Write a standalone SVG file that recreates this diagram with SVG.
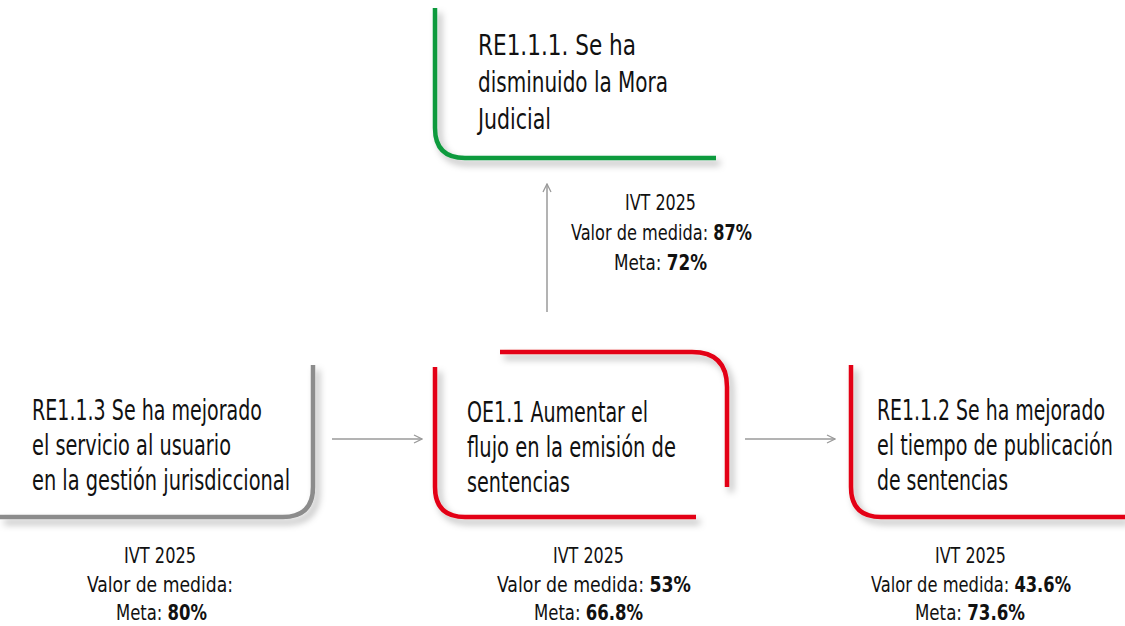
<svg xmlns="http://www.w3.org/2000/svg" width="1125" height="626" viewBox="0 0 1125 626">
<defs>
<filter id="sh" x="-10%" y="-10%" width="130%" height="140%">
<feDropShadow dx="4" dy="5" stdDeviation="3.5" flood-color="#000" flood-opacity="0.3"/>
</filter>
<marker id="ah" viewBox="0 0 10 10" refX="9" refY="5" markerWidth="10" markerHeight="10" markerUnits="userSpaceOnUse" orient="auto">
<path d="M1,1 L9,5 L1,9" fill="none" stroke="#9a9a9a" stroke-width="1.3"/>
</marker>
<style>
.frame{fill:none;stroke-width:4.5;filter:url(#sh)}
.green{stroke:#0f9a3e}
.red{stroke:#e30613}
.gray{stroke:#8c8c8c}
.lbl{font-family:"DejaVu Sans Condensed","Liberation Sans",sans-serif;fill:#111;font-size:29px}
.ivt{font-family:"DejaVu Sans Condensed","Liberation Sans",sans-serif;fill:#111;font-size:22px}
.b{font-weight:bold}
.conn{stroke:#9a9a9a;stroke-width:1.5;fill:none;marker-end:url(#ah)}
</style>
</defs>
<rect width="1125" height="626" fill="#fff"/>

<g id="connectors">
<line class="conn" x1="547" y1="312" x2="547" y2="184"/>
<line class="conn" x1="332" y1="439" x2="422" y2="439"/>
<line class="conn" x1="745" y1="439" x2="835" y2="439"/>
</g>

<g id="re111">
<path class="frame green" d="M435,8 V128 Q435,158 465,158 H716"/>
<text class="lbl" transform="translate(478,55) scale(0.77,1)" textLength="205.2" lengthAdjust="spacingAndGlyphs">RE1.1.1. Se ha</text>
<text class="lbl" transform="translate(478,92) scale(0.77,1)" textLength="246.8" lengthAdjust="spacingAndGlyphs">disminuido la Mora</text>
<text class="lbl" transform="translate(478,129) scale(0.77,1)" textLength="94.8" lengthAdjust="spacingAndGlyphs">Judicial</text>
</g>
<g id="ivt-top">
<text class="ivt" transform="translate(625,210) scale(0.8,1)" textLength="88.75" lengthAdjust="spacingAndGlyphs">IVT 2025</text>
<text class="ivt" transform="translate(571,240) scale(0.8,1)" textLength="226.25" lengthAdjust="spacingAndGlyphs">Valor de medida: <tspan class="b">87%</tspan></text>
<text class="ivt" transform="translate(614,270) scale(0.8,1)" textLength="116.25" lengthAdjust="spacingAndGlyphs">Meta: <tspan class="b">72%</tspan></text>
</g>

<g id="re113">
<path class="frame gray" d="M313,365 V487 Q313,517 283,517 H0"/>
<text class="lbl" transform="translate(32,420) scale(0.77,1)" textLength="298.7" lengthAdjust="spacingAndGlyphs">RE1.1.3 Se ha mejorado</text>
<text class="lbl" transform="translate(32,455) scale(0.77,1)" textLength="258.4" lengthAdjust="spacingAndGlyphs">el servicio al usuario</text>
<text class="lbl" transform="translate(32,490) scale(0.77,1)" textLength="335.1" lengthAdjust="spacingAndGlyphs">en la gestión jurisdiccional</text>
</g>
<g id="ivt-left">
<text class="ivt" transform="translate(124,563) scale(0.8,1)" textLength="90" lengthAdjust="spacingAndGlyphs">IVT 2025</text>
<text class="ivt" transform="translate(87,592) scale(0.8,1)" textLength="182.5" lengthAdjust="spacingAndGlyphs">Valor de medida:</text>
<text class="ivt" transform="translate(116,620) scale(0.8,1)" textLength="113.75" lengthAdjust="spacingAndGlyphs">Meta: <tspan class="b">80%</tspan></text>
</g>

<g id="oe11">
<path class="frame red" d="M500,352 H692 Q727,352 727,387 V487"/>
<path class="frame red" d="M435,367 V487 Q435,517 465,517 H696"/>
<text class="lbl" transform="translate(467,422) scale(0.77,1)" textLength="235.1" lengthAdjust="spacingAndGlyphs">OE1.1 Aumentar el</text>
<text class="lbl" transform="translate(467,457) scale(0.77,1)" textLength="271.4" lengthAdjust="spacingAndGlyphs">flujo en la emisión de</text>
<text class="lbl" transform="translate(467,492) scale(0.77,1)" textLength="133.8" lengthAdjust="spacingAndGlyphs">sentencias</text>
</g>
<g id="ivt-mid">
<text class="ivt" transform="translate(553,563) scale(0.8,1)" textLength="88.75" lengthAdjust="spacingAndGlyphs">IVT 2025</text>
<text class="ivt" transform="translate(497,592) scale(0.8,1)" textLength="242.5" lengthAdjust="spacingAndGlyphs">Valor de medida: <tspan class="b">53%</tspan></text>
<text class="ivt" transform="translate(534,620) scale(0.8,1)" textLength="136.25" lengthAdjust="spacingAndGlyphs">Meta: <tspan class="b">66.8%</tspan></text>
</g>

<g id="re112">
<path class="frame red" d="M851,365 V487 Q851,517 881,517 H1125"/>
<text class="lbl" transform="translate(877,420) scale(0.77,1)" textLength="296.1" lengthAdjust="spacingAndGlyphs">RE1.1.2 Se ha mejorado</text>
<text class="lbl" transform="translate(877,455) scale(0.77,1)" textLength="306.5" lengthAdjust="spacingAndGlyphs">el tiempo de publicación</text>
<text class="lbl" transform="translate(877,490) scale(0.77,1)" textLength="170.1" lengthAdjust="spacingAndGlyphs">de sentencias</text>
</g>
<g id="ivt-right">
<text class="ivt" transform="translate(935,563) scale(0.8,1)" textLength="88.75" lengthAdjust="spacingAndGlyphs">IVT 2025</text>
<text class="ivt" transform="translate(871,592) scale(0.8,1)" textLength="250" lengthAdjust="spacingAndGlyphs">Valor de medida: <tspan class="b">43.6%</tspan></text>
<text class="ivt" transform="translate(915,620) scale(0.8,1)" textLength="137.5" lengthAdjust="spacingAndGlyphs">Meta: <tspan class="b">73.6%</tspan></text>
</g>
</svg>
